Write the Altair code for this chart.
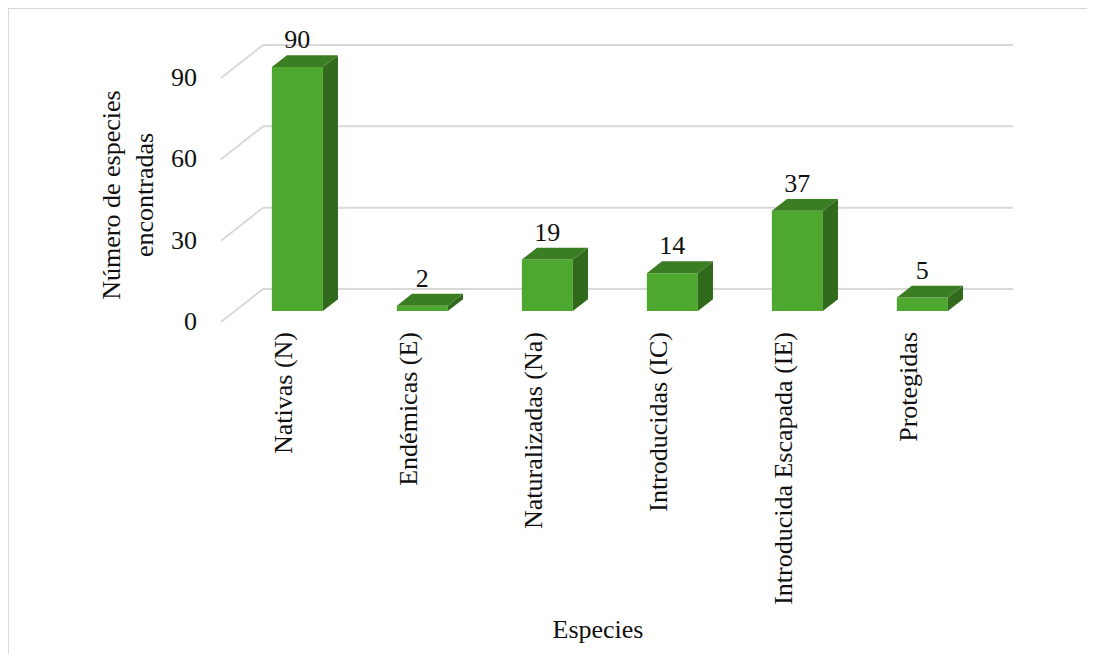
import altair as alt
import pandas as pd

# ---------------- data ----------------
categories = ["Nativas (N)", "Endémicas (E)", "Naturalizadas (Na)",
              "Introducidas (IC)", "Introducida Escapada (IE)", "Protegidas"]
values = [90, 2, 19, 14, 37, 5]
y_ticks = [0, 30, 60, 90]
y_title = ["Número de especies", "encontradas"]
x_title = "Especies"

# ---------------- style / geometry ----------------
W, H = 1079, 646
FONT = "Liberation Serif"
FS = 26
TXT = "#111111"
GRID = "#d9d9d9"
FRONT = "#4ea72e"
TOP = "#3b7d23"
SIDE = "#316a1d"

X_DOMAIN = [-2.204, 6.428]      # category-index units
Y_DOMAIN = [-122.46, 115.82]    # value units
DX, DY = 0.336, 12.17           # full depth of the 3-D box in data units
F1, F2 = 0.33, 0.69             # depth of bar front / back
HW = 0.204                      # half bar width

xs = alt.Scale(domain=X_DOMAIN, nice=False, zero=False)
ys = alt.Scale(domain=Y_DOMAIN, nice=False, zero=False)

n = len(categories)
idx = list(range(n))

# ---------------- tables ----------------
grid_df = pd.DataFrame({
    "v": y_ticks,
    "yb": [t + DY for t in y_ticks],
    "xl": [-0.5 + DX] * len(y_ticks),
    "xr": [n - 0.5 + DX] * len(y_ticks),
    "xf": [-0.5] * len(y_ticks),
})

front_df = pd.DataFrame({
    "cat": categories, "i": idx, "val": values,
    "x0": [i - HW + F1 * DX for i in idx],
    "x1": [i + HW + F1 * DX for i in idx],
    "xc": [i + F1 * DX for i in idx],
    "yb": [F1 * DY] * n,
    "yt": [v + F1 * DY for v in values],
    "ylab": [v + F2 * DY for v in values],
    "zero": [0] * n,
})

side_rows = []
top_rows = []
for i, c, v in zip(idx, categories, values):
    side_rows.append({"cat": c, "x": i + HW + F1 * DX, "y": v + F1 * DY, "y2": F1 * DY})
    side_rows.append({"cat": c, "x": i + HW + F2 * DX, "y": v + F2 * DY, "y2": F2 * DY})
    top_rows.append({"cat": c, "x": i - HW + F1 * DX, "y": v + F1 * DY, "y2": v + F1 * DY})
    top_rows.append({"cat": c, "x": i - HW + F2 * DX, "y": v + F2 * DY, "y2": v + F1 * DY})
    top_rows.append({"cat": c, "x": i + HW + F1 * DX, "y": v + F2 * DY, "y2": v + F1 * DY})
    top_rows.append({"cat": c, "x": i + HW + F2 * DX, "y": v + F2 * DY, "y2": v + F2 * DY})
side_df = pd.DataFrame(side_rows)
top_df = pd.DataFrame(top_rows)
one_row = pd.DataFrame({"k": [0]})

# ---------------- layers ----------------
back_grid = alt.Chart(grid_df).mark_rule(color=GRID, strokeWidth=2).encode(
    x=alt.X("xl:Q", scale=xs, axis=None),
    x2="xr:Q",
    y=alt.Y("yb:Q", scale=ys, axis=None),
)
diag_grid = alt.Chart(grid_df).mark_rule(color=GRID, strokeWidth=2).encode(
    x=alt.X("xf:Q", scale=xs, axis=None),
    x2="xl:Q",
    y=alt.Y("v:Q", scale=ys, axis=None),
    y2="yb:Q",
)
y_labels = alt.Chart(grid_df).mark_text(
    font=FONT, fontSize=FS, color=TXT, align="right", baseline="middle",
    xOffset=-24,
).encode(
    x=alt.X("xf:Q", scale=xs, axis=None),
    y=alt.Y("v:Q", scale=ys, axis=None),
    text="v:Q",
)
x_labels = alt.Chart(front_df).mark_text(
    font=FONT, fontSize=FS, color=TXT, align="right", baseline="middle",
    angle=270, yOffset=10,
).encode(
    x=alt.X("i:Q", scale=xs, axis=None),
    y=alt.Y("zero:Q", scale=ys, axis=None),
    text="cat:N",
)
x_title_mark = alt.Chart(one_row).mark_text(
    font=FONT, fontSize=FS, color=TXT, align="center", baseline="alphabetic",
).encode(x=alt.value(590), y=alt.value(630), text=alt.value(x_title))
y_title_mark = alt.Chart(one_row).mark_text(
    font=FONT, fontSize=FS, color=TXT, align="center", baseline="middle",
    angle=270, lineHeight=33,
).encode(x=alt.value(104), y=alt.value(187), text=alt.value(y_title))

front = alt.Chart(front_df).mark_rect(color=FRONT).encode(
    x=alt.X("x0:Q", scale=xs, axis=None),
    x2="x1:Q",
    y=alt.Y("yb:Q", scale=ys, axis=None),
    y2="yt:Q",
)
side = alt.Chart(side_df).mark_area(color=SIDE, orient="vertical").encode(
    x=alt.X("x:Q", scale=xs, axis=None),
    y=alt.Y("y:Q", scale=ys, axis=None),
    y2="y2:Q",
    detail="cat:N",
)
top = alt.Chart(top_df).mark_area(color=TOP, orient="vertical").encode(
    x=alt.X("x:Q", scale=xs, axis=None),
    y=alt.Y("y:Q", scale=ys, axis=None),
    y2="y2:Q",
    detail="cat:N",
)
labels = alt.Chart(front_df).mark_text(
    font=FONT, fontSize=FS, color=TXT, baseline="alphabetic", dy=-7
).encode(
    x=alt.X("xc:Q", scale=xs, axis=None),
    y=alt.Y("ylab:Q", scale=ys, axis=None),
    text="val:Q",
)
border_left = alt.Chart(one_row).mark_rule(color=GRID, strokeWidth=2).encode(
    x=alt.value(0), y=alt.value(0), y2=alt.value(H))
border_top = alt.Chart(one_row).mark_rule(color=GRID, strokeWidth=2).encode(
    y=alt.value(0), x=alt.value(0), x2=alt.value(W))

chart = alt.layer(
    back_grid, diag_grid, y_labels, x_labels, x_title_mark, y_title_mark,
    front, side, top, labels, border_left, border_top
).properties(
    width=W, height=H,
    autosize=alt.AutoSizeParams(type="none"),
    padding=0,
).configure_view(stroke=None).configure(background="white")

chart.save("out.html", embed_options={"renderer": "svg", "actions": False})
